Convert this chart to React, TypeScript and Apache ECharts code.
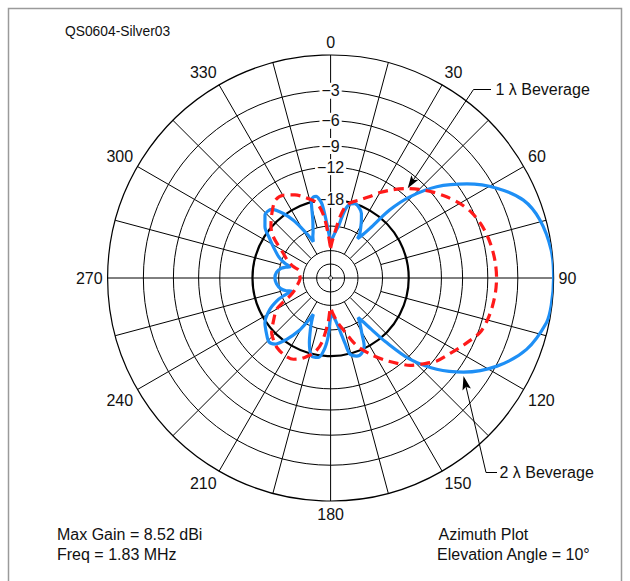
import React, { useEffect, useRef } from 'react';
import * as echarts from 'echarts';

// ---------- grid (dB rings, spokes, labels) ----------
const ringDb = [-3, -6, -9, -12, -25, -36, -47.5];
const thickRingDb = [-18];
const ringLabelDb = [-3, -6, -9, -12, -18];
const ringLabels = ['\u22123', '\u22126', '\u22129', '\u221212', '\u221218'];
const angleLabels = [0, 30, 60, 90, 120, 150, 180, 210, 240, 270, 300, 330];
const spokesThroughCenter = [0, 90, 180, 270];
const spokesFromInner = [30, 45, 60, 120, 135, 150, 210, 225, 240, 300, 315, 330];
const spokesFromMiddle = [15, 75, 105, 165, 195, 255, 285, 345];
const innerSpokeDb = -36;
const middleSpokeDb = -25;

// ---------- 2 lambda Beverage (blue, solid) ----------
const az2 = [
  0, 2, 4, 6.5, 8.5, 10.5, 12.5, 15, 18, 22, 25.5, 28, 31, 33.3, 34.5, 36.5, 38.4, 41, 44.3, 49.3,
  55.4, 61.6, 68, 74.5, 82.8, 90, 97, 101.7, 110, 117.9, 125.3, 130.7, 135.7, 139.3, 141.5, 143.5,
  145.1, 147.5, 150.4, 153.7, 157.5, 161.5, 165.7, 167.5, 169.5, 172, 175, 178, 180.5, 182.3, 185,
  188.8, 193.6, 198.2, 201.5, 203.5, 205.5, 208, 210.8, 215.6, 220, 224, 228.6, 235.7, 242.7, 247,
  249.2, 251.5, 254, 258, 264, 270, 276, 281, 283.5, 285.6, 288, 292, 298.6, 303, 308, 313.8, 319.4,
  323.8, 327.3, 330, 332.5, 334.5, 337, 339.2, 341, 343, 344.5, 346, 348, 350, 352, 353.5, 356,
  358.5, 360,
];
const gain2 = [
  -30.5, -30, -28.5, -26.5, -25, -22, -19.5, -18.3, -18, -18.5, -19.5, -21, -23, -24.6, -26.5, -24.5,
  -21.6, -15.5, -11.6, -8, -5.1, -2.85, -1.2, -0.45, -0.05, 0, -0.05, -0.2, -1.15, -2.9, -5.4, -8,
  -11.6, -16.8, -21, -24.3, -26.3, -24, -21.7, -18.5, -17.3, -17.1, -17.9, -20.5, -23.8, -27, -29.5,
  -31, -29, -23.1, -19.5, -17.5, -17.5, -20.4, -24, -26.5, -29.4, -25.8, -22.3, -18.6, -16.3, -15.8,
  -16.5, -17.7, -20.3, -23, -25.4, -29, -27, -25.3, -24.2, -23.8, -24.2, -25.5, -27, -28.6, -26.2,
  -23.8, -21.1, -19.2, -16.9, -15.4, -15.5, -17.6, -20.3, -23.5, -26.5, -29.4, -27.3, -25.9, -24.3,
  -22.3, -20, -17.6, -17, -17, -17.8, -19, -24, -29, -30.5,
];

// ---------- 1 lambda Beverage (red, dashed) ----------
const az1 = [
  0, 2.5, 5.5, 8.7, 12, 16, 20, 25, 30, 35, 40, 45, 50, 55, 60, 65, 70, 75, 80, 85, 90, 95, 100, 105,
  110, 116.6, 122, 128, 133, 137.7, 142, 147, 152, 157, 160.5, 164, 171, 175, 177.5, 180, 183, 187.8,
  192, 196, 200, 204.6, 211, 217.7, 222, 227.1, 233, 239.9, 243, 246.1, 251, 256.7, 262, 270, 278,
  284, 287, 292, 297.6, 305.8, 311, 317.7, 324.5, 330.3, 336.8, 341.4, 345.3, 349, 352, 354.5, 357,
  360,
];
const gain1 = [
  -34.5, -31, -27, -22, -19, -17.8, -17, -15.7, -14, -12.5, -11.1, -9.9, -8.8, -7.8, -6.9, -6.2,
  -5.75, -5.45, -5.25, -5.12, -5.07, -5.12, -5.25, -5.45, -5.8, -6.9, -7.8, -8.65, -9.8, -10.9,
  -12.4, -14.2, -16.2, -18.3, -20.3, -23, -27.5, -30.5, -32.5, -34.6, -28, -21.1, -18.5, -17.4,
  -16.4, -15.7, -15.6, -16, -16.6, -17.5, -19.5, -21.9, -24.5, -27.7, -30.3, -31.9, -33.2, -34.2,
  -33.5, -32.8, -29.9, -27, -24.5, -19.7, -17.8, -16.1, -14.6, -14.6, -15.5, -16.4, -17.3, -18.2,
  -20, -23, -28.3, -34.5,
];

// ARRL log-periodic radial scale: each 2 dB = 0.89 of radius
const toR = (db: number) => Math.pow(0.89, -db / 2);

const FONT = 'Arial, "Liberation Sans", Helvetica, sans-serif';
const CX = 330.6;
const CY = 278;
const R = 223;

export default function App() {
  const ref = useRef<HTMLDivElement>(null);

  useEffect(() => {
    if (!ref.current) return;
    const chart = echarts.init(ref.current, null, { renderer: 'svg' });

    const gridLine = { color: '#000', width: 1 };
    const baseAngle: any = {
      type: 'value',
      min: 0,
      max: 360,
      startAngle: 90,
      clockwise: true,
      axisTick: { show: false },
      axisLabel: { show: false },
      axisLine: { show: false },
      splitLine: { show: false },
      splitArea: { show: false },
    };
    const hiddenRadius: any = {
      type: 'value',
      min: 0,
      max: 1,
      axisLine: { show: false },
      axisTick: { show: false },
      axisLabel: { show: false },
      splitLine: { show: false },
      splitArea: { show: false },
    };
    const txt = (text: string, x: number, y: number, size = 16) => ({
      type: 'text',
      x,
      y,
      style: { text, fontSize: size, fontFamily: FONT, fill: '#111', verticalAlign: 'middle', align: 'left' },
    });

    const option: any = {
      animation: false,
      backgroundColor: '#fff',
      textStyle: { fontFamily: FONT },
      polar: [
        { center: [CX, CY], radius: [0, R] },
        { center: [CX, CY], radius: [0, R] },
        { center: [CX, CY], radius: [R * toR(innerSpokeDb), R] },
        { center: [CX, CY], radius: [R * toR(middleSpokeDb), R] },
        { center: [CX, CY], radius: [0, R] },
      ],
      angleAxis: [
        {
          ...baseAngle,
          polarIndex: 0,
          axisLine: { show: true, lineStyle: { color: '#000', width: 1.2 } },
          axisLabel: {
            show: true,
            customValues: angleLabels,
            formatter: (v: number) => String(v),
            margin: 5,
            fontSize: 16,
            color: '#111',
            fontFamily: FONT,
          },
        },
        {
          ...baseAngle,
          polarIndex: 1,
          axisTick: { show: false, customValues: spokesThroughCenter },
          splitLine: { show: true, lineStyle: gridLine },
        },
        {
          ...baseAngle,
          polarIndex: 2,
          axisTick: { show: false, customValues: spokesFromInner },
          splitLine: { show: true, lineStyle: gridLine },
        },
        {
          ...baseAngle,
          polarIndex: 3,
          axisTick: { show: false, customValues: spokesFromMiddle },
          splitLine: { show: true, lineStyle: gridLine },
        },
        { ...baseAngle, polarIndex: 4 },
      ],
      radiusAxis: [
        {
          ...hiddenRadius,
          polarIndex: 0,
          axisTick: { show: false, customValues: ringDb.map(toR) },
          splitLine: { show: true, lineStyle: gridLine },
          axisLabel: {
            show: true,
            customValues: ringLabelDb.map(toR),
            formatter: (v: number) => {
              const i = ringLabelDb.findIndex((d) => Math.abs(toR(d) - v) < 1e-6);
              return i >= 0 ? ringLabels[i] : '';
            },
            margin: 0,
            align: 'center',
            verticalAlign: 'middle',
            fontSize: 16,
            color: '#111',
            fontFamily: FONT,
            backgroundColor: '#fff',
            padding: [0, 2],
          },
        },
        { ...hiddenRadius, polarIndex: 1 },
        { ...hiddenRadius, polarIndex: 2 },
        { ...hiddenRadius, polarIndex: 3 },
        {
          ...hiddenRadius,
          polarIndex: 4,
          axisTick: { show: false, customValues: thickRingDb.map(toR) },
          splitLine: { show: true, lineStyle: { color: '#000', width: 2.2 } },
        },
      ],
      series: [
        {
          name: '2 λ Beverage',
          type: 'line',
          coordinateSystem: 'polar',
          polarIndex: 0,
          data: az2.map((a, i) => [toR(gain2[i]), a]),
          showSymbol: false,
          smooth: 0.3,
          silent: true,
          lineStyle: { color: '#1e8ff5', width: 3.2 },
          z: 3,
        },
        {
          name: '1 λ Beverage',
          type: 'line',
          coordinateSystem: 'polar',
          polarIndex: 0,
          data: az1.map((a, i) => [toR(gain1[i]), a]),
          showSymbol: false,
          smooth: 0.3,
          silent: true,
          lineStyle: { color: '#ff1a1a', width: 3.2, type: [10, 6] },
          z: 4,
        },
        {
          type: 'scatter',
          coordinateSystem: 'polar',
          polarIndex: 0,
          data: [[0, 0]],
          symbol: 'circle',
          symbolSize: 4,
          silent: true,
          itemStyle: { color: '#fff', borderColor: '#000', borderWidth: 1 },
          z: 5,
        },
      ],
      graphic: [
        {
          type: 'rect',
          z: -10,
          shape: { x: 8.5, y: 8.5, width: 613, height: 600 },
          style: { fill: 'none', stroke: '#9a9a9a', lineWidth: 1.5 },
        },
        txt('QS0604-Silver03', 65, 31.5, 13.8),
        txt('1 λ Beverage', 495.5, 89.5),
        txt('2 λ Beverage', 499.5, 472.5),
        {
          type: 'polyline',
          shape: { points: [[491, 89.5], [473.5, 89.5], [413.3, 180]] },
          style: { stroke: '#000', lineWidth: 1, fill: null },
        },
        {
          type: 'polygon',
          shape: { points: [[407.7, 188.3], [411.4, 175.2], [413.3, 180], [418.4, 179.8]] },
          style: { fill: '#000' },
        },
        {
          type: 'polyline',
          shape: { points: [[497, 472.5], [486, 472.5], [466, 386.7]] },
          style: { stroke: '#000', lineWidth: 1, fill: null },
        },
        {
          type: 'polygon',
          shape: { points: [[463.5, 376], [470.9, 388.6], [466, 386.7], [462.5, 390.6]] },
          style: { fill: '#000' },
        },
        txt('Max Gain = 8.52 dBi', 57, 534),
        txt('Freq = 1.83 MHz', 57, 554),
        txt('Azimuth Plot', 438.5, 534),
        txt('Elevation Angle = 10°', 437, 554),
      ],
    };

    chart.setOption(option);
    return () => chart.dispose();
  }, []);

  return (
    <div
      ref={ref}
      style={{ position: 'absolute', left: 0, top: 0, width: 630, height: 581, background: '#fff' }}
    />
  );
}
